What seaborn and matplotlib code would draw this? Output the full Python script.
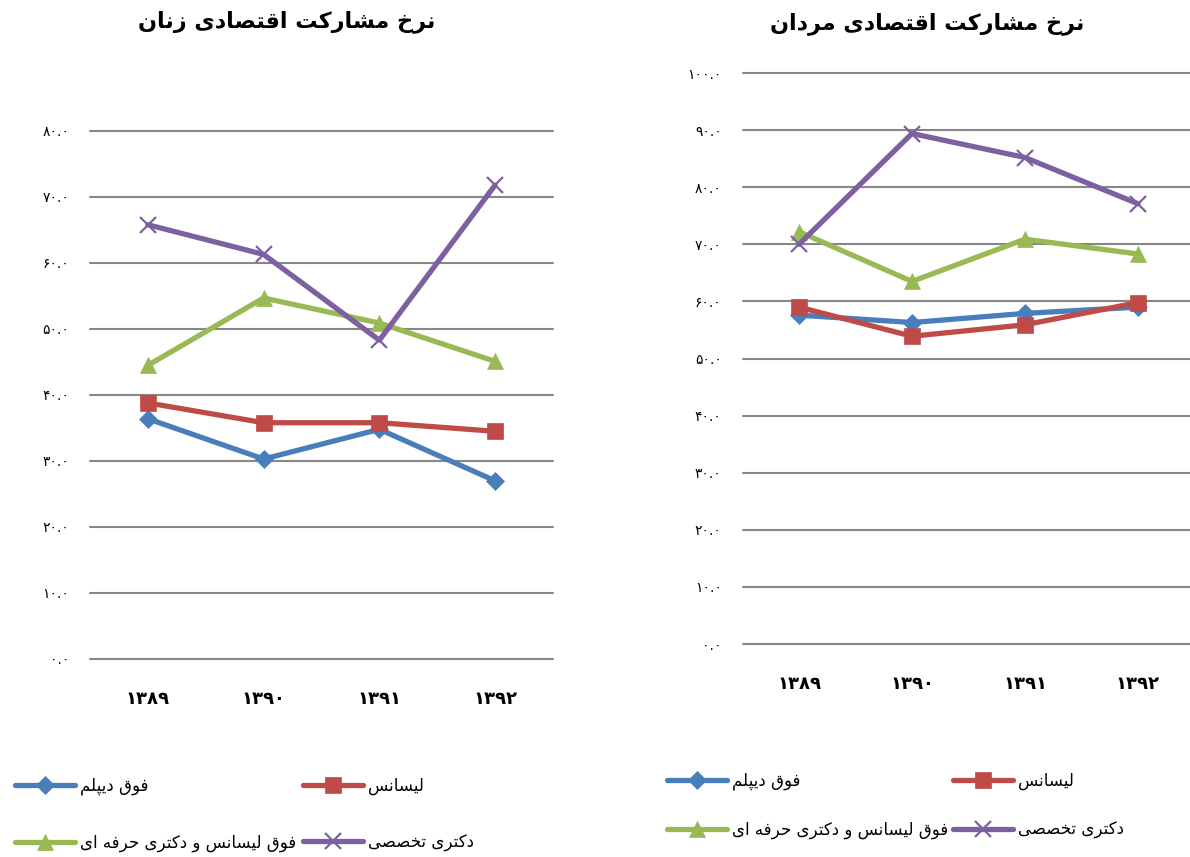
import matplotlib
matplotlib.use("Agg")
import matplotlib.pyplot as plt
import seaborn as sns
import pandas as pd

# Donnees
years = ["۱۳۸۹", "۱۳۹۰", "۱۳۹۱", "۱۳۹۲"]
series_names = ["فوق دیپلم", "لیسانس", "فوق لیسانس و دکتری حرفه ای", "دکتری تخصصی"]

women_diploma = [36.4, 30.3, 34.8, 27.0]
women_bachelor = [38.8, 35.8, 35.8, 34.5]
women_master = [44.5, 54.7, 50.9, 45.1]
women_phd = [65.8, 61.3, 48.3, 71.8]

men_diploma = [57.6, 56.3, 57.9, 59.0]
men_bachelor = [59.0, 53.9, 55.9, 59.8]
men_master = [72.2, 63.5, 70.9, 68.3]
men_phd = [70.0, 89.4, 85.2, 77.1]

title_women = "نرخ مشارکت اقتصادی زنان"
title_men = "نرخ مشارکت اقتصادی مردان"

colors = ["#4A7EBB", "#BE4B48", "#98B954", "#7D60A0"]
markers = ["D", "s", "^", "x"]
msizes = [9, 11, 12, 12]

# --- mise en forme arabe/persane (pas de shaping dans matplotlib) ---
FORMS = {
    "ا": ("\uFE8D", "\uFE8E", None, None),
    "د": ("\uFEA9", "\uFEAA", None, None),
    "ر": ("\uFEAD", "\uFEAE", None, None),
    "ز": ("\uFEAF", "\uFEB0", None, None),
    "و": ("\uFEED", "\uFEEE", None, None),
    "پ": ("\uFB56", "\uFB57", "\uFB58", "\uFB59"),
    "ت": ("\uFE95", "\uFE96", "\uFE97", "\uFE98"),
    "ح": ("\uFEA1", "\uFEA2", "\uFEA3", "\uFEA4"),
    "خ": ("\uFEA5", "\uFEA6", "\uFEA7", "\uFEA8"),
    "س": ("\uFEB1", "\uFEB2", "\uFEB3", "\uFEB4"),
    "ش": ("\uFEB5", "\uFEB6", "\uFEB7", "\uFEB8"),
    "ص": ("\uFEB9", "\uFEBA", "\uFEBB", "\uFEBC"),
    "ف": ("\uFED1", "\uFED2", "\uFED3", "\uFED4"),
    "ق": ("\uFED5", "\uFED6", "\uFED7", "\uFED8"),
    "ک": ("\uFB8E", "\uFB8F", "\uFB90", "\uFB91"),
    "ل": ("\uFEDD", "\uFEDE", "\uFEDF", "\uFEE0"),
    "م": ("\uFEE1", "\uFEE2", "\uFEE3", "\uFEE4"),
    "ن": ("\uFEE5", "\uFEE6", "\uFEE7", "\uFEE8"),
    "ه": ("\uFEE9", "\uFEEA", "\uFEEB", "\uFEEC"),
    "ی": ("\uFBFC", "\uFBFD", "\uFBFE", "\uFBFF"),
}


def dual(c):
    return c in FORMS and FORMS[c][2] is not None


def shape(text):
    out = []
    for i, c in enumerate(text):
        if c not in FORMS:
            out.append(c)
            continue
        prev = text[i - 1] if i > 0 else " "
        nxt = text[i + 1] if i + 1 < len(text) else " "
        join_prev = dual(prev)
        join_next = dual(c) and nxt in FORMS
        iso, fin, ini, med = FORMS[c]
        if join_prev and join_next:
            out.append(med)
        elif join_prev:
            out.append(fin)
        elif join_next:
            out.append(ini)
        else:
            out.append(iso)
    return "".join(out)[::-1]


def fa_num(v):
    s = f"{v:.1f}"
    return s.translate(str.maketrans("0123456789", "۰۱۲۳۴۵۶۷۸۹"))


sns.set_style("white")
plt.rcParams["font.family"] = ["DejaVu Sans"]
plt.rcParams["text.color"] = "black"
plt.rcParams["xtick.color"] = "black"
plt.rcParams["ytick.color"] = "black"

fig = plt.figure(figsize=(11.9, 8.57), dpi=100)
ax_w = fig.add_axes([90 / 1190, 1 - 659 / 857, 463 / 1190, 528 / 857])
ax_m = fig.add_axes([742.5 / 1190, 1 - 644 / 857, 452 / 1190, 571 / 857])


def draw(ax, data, ymax, legend_xy, colspace, rowspace):
    frames = []
    for name, vals in zip(series_names, data):
        frames.append(pd.DataFrame({"year": years, "value": vals, "series": name}))
    df = pd.concat(frames, ignore_index=True)
    for i, name in enumerate(series_names):
        sub = df[df["series"] == name]
        sns.lineplot(data=sub, x="year", y="value", ax=ax, color=colors[i],
                     marker=markers[i], markersize=msizes[i], linewidth=3.8,
                     markeredgecolor=colors[i],
                     markeredgewidth=1.6 if markers[i] == "x" else 0.5,
                     label=shape(name), sort=False, zorder=3 + i)
    ax.set_xlim(-0.5, 3.5)
    ax.set_ylim(0, ymax)
    ticks = list(range(0, ymax + 1, 10))
    ax.set_yticks(ticks)
    ax.set_yticklabels([fa_num(t) for t in ticks], fontsize=10)
    ax.set_xlabel("")
    ax.set_ylabel("")
    ax.grid(axis="y", color="#878787", linewidth=1.5)
    ax.grid(axis="x", visible=False)
    for gl in ax.get_ygridlines():
        gl.set_clip_on(False)
    ax.set_axisbelow(True)
    for sp in ax.spines.values():
        sp.set_visible(False)
    ax.tick_params(axis="y", length=0, pad=15)
    ax.tick_params(axis="x", length=0, pad=22, labelsize=13)
    for lab in ax.get_xticklabels():
        lab.set_fontweight("bold")
    h, l = ax.get_legend_handles_labels()
    order = [0, 2, 1, 3]
    ax.legend([h[k] for k in order], [l[k] for k in order], ncol=2,
              loc="upper left", bbox_to_anchor=legend_xy,
              bbox_transform=fig.transFigure, frameon=False, fontsize=12,
              handlelength=3.6, handletextpad=0.3, columnspacing=colspace,
              labelspacing=rowspace, borderaxespad=0)


draw(ax_w, [women_diploma, women_bachelor, women_master, women_phd], 80,
     (8 / 1190, 1 - 770 / 857), 0.4, 2.3)
draw(ax_m, [men_diploma, men_bachelor, men_master, men_phd], 100,
     (660 / 1190, 1 - 765 / 857), 0.3, 1.85)

fig.text(287 / 1190, 1 - 22 / 857, shape(title_women), ha="center", va="center",
         fontsize=16, fontweight="bold")
fig.text(927 / 1190, 1 - 24 / 857, shape(title_men), ha="center", va="center",
         fontsize=16, fontweight="bold")

fig.savefig("out.png", dpi=100)
